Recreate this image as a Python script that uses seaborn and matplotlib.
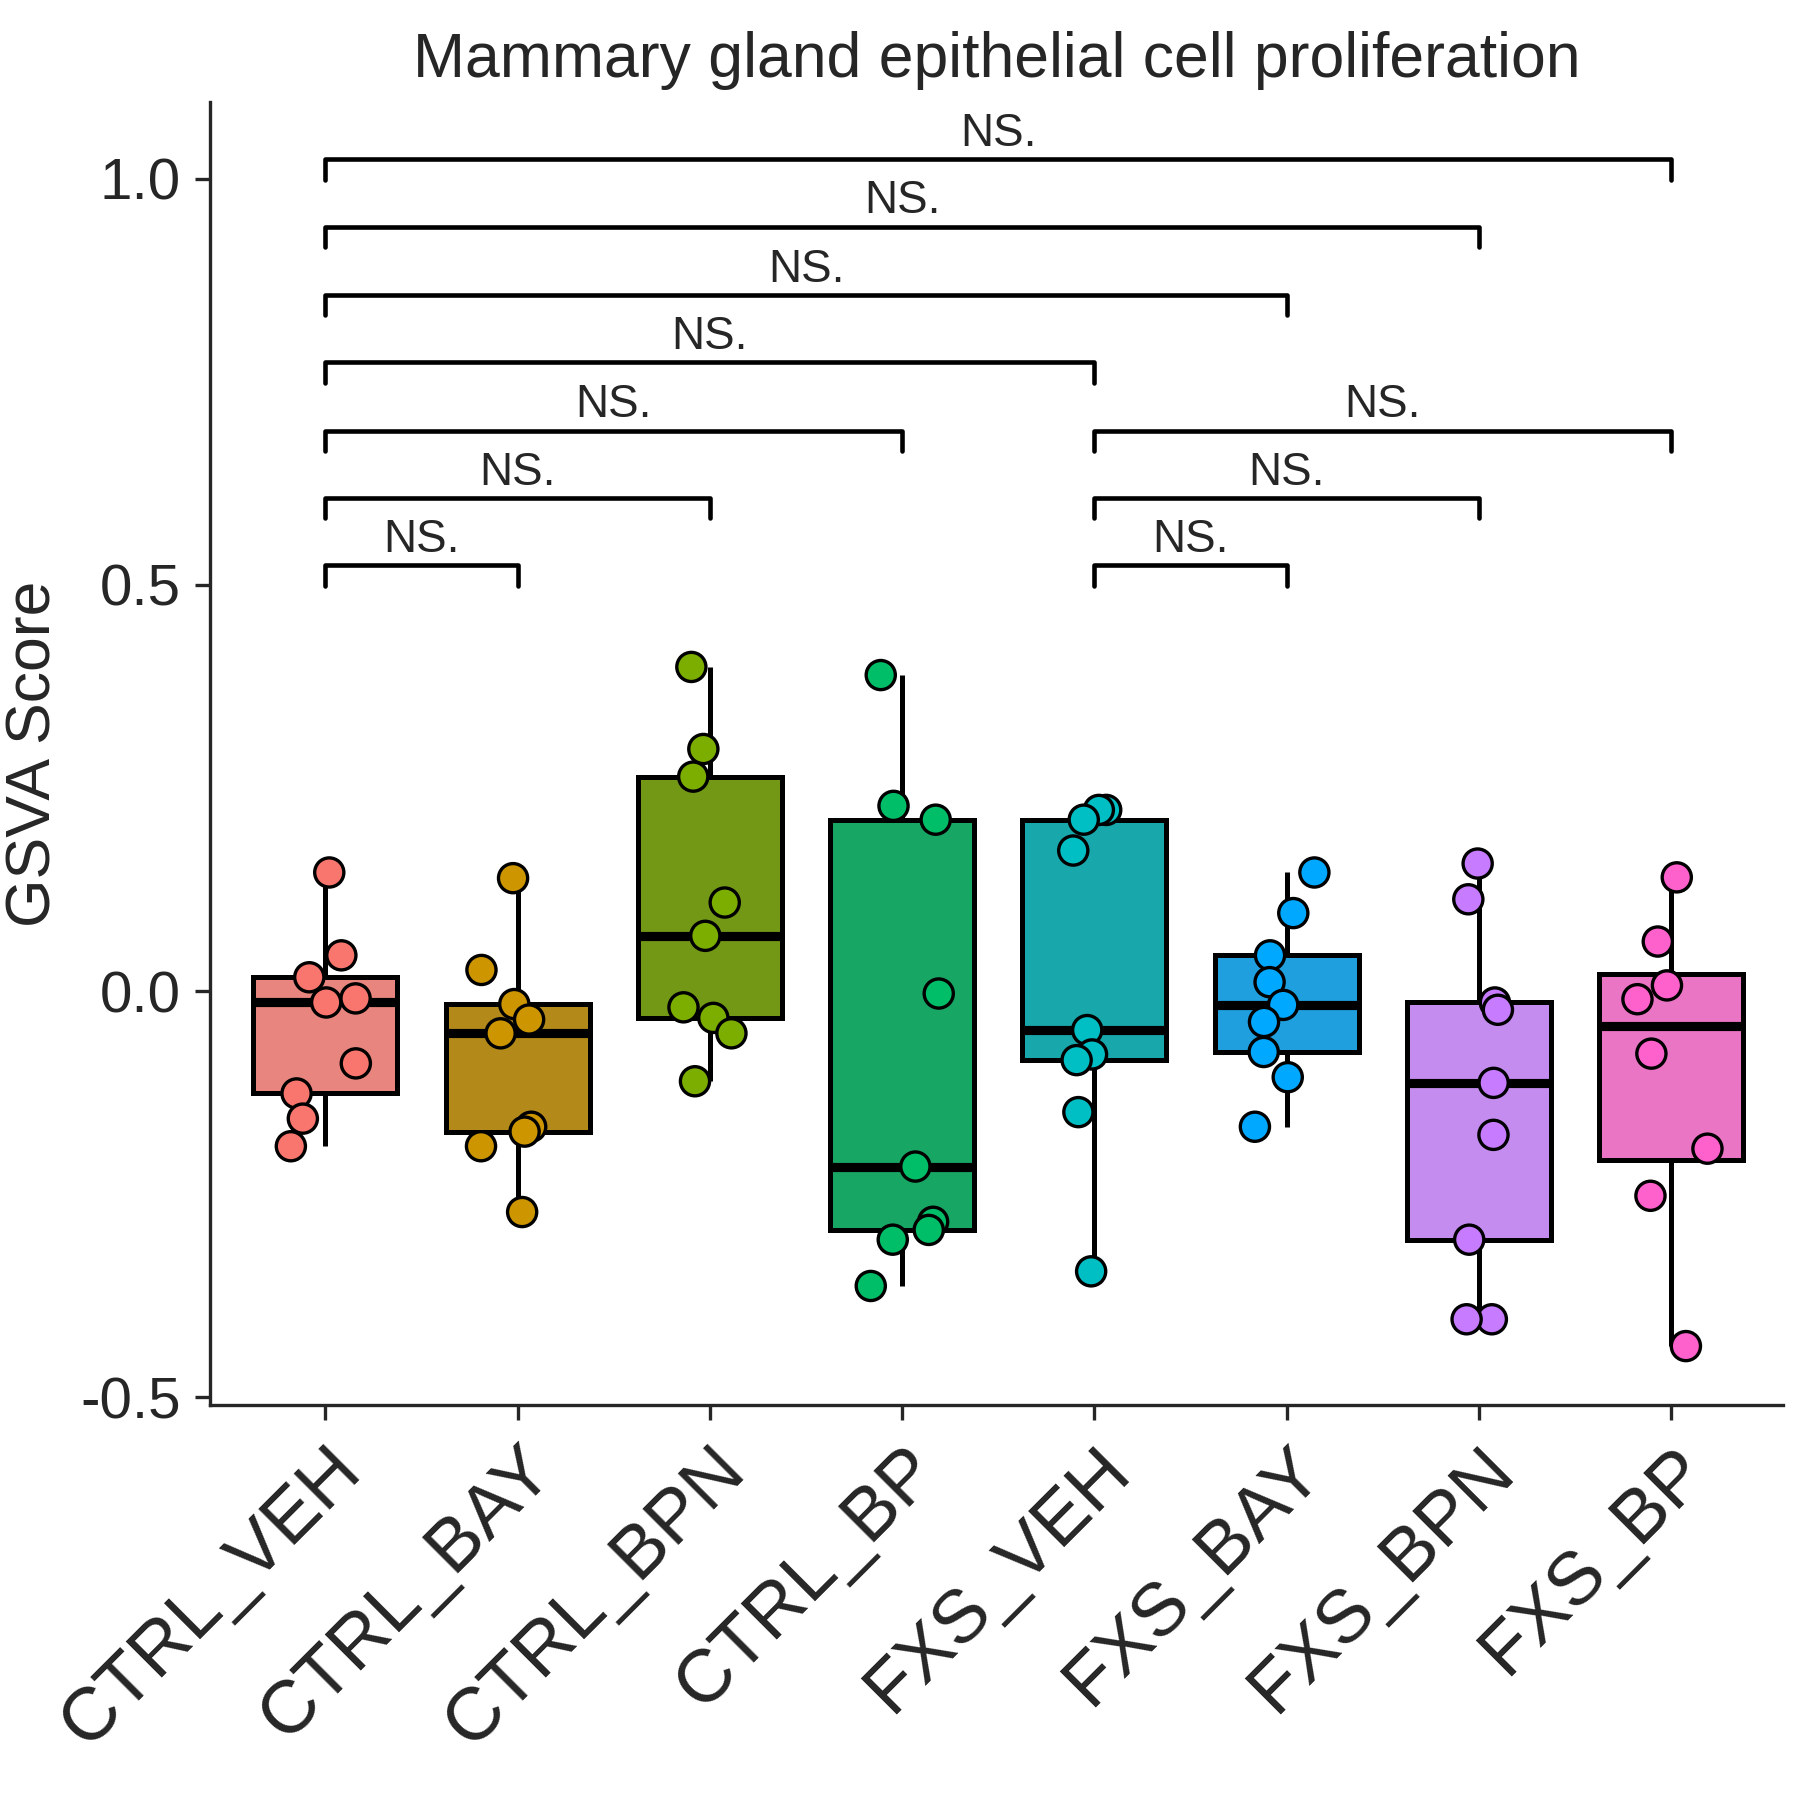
import matplotlib
matplotlib.use('Agg')
import matplotlib.pyplot as plt
import seaborn as sns
import pandas as pd
import numpy as np

sns.set_style("ticks")
plt.rcParams['font.family'] = ['Liberation Sans', 'DejaVu Sans']

groups = ['CTRL_VEH', 'CTRL_BAY', 'CTRL_BPN', 'CTRL_BP',
          'FXS_VEH', 'FXS_BAY', 'FXS_BPN', 'FXS_BP']
colors = ['#F8766D', '#CD9600', '#7CAE00', '#00BE67',
          '#00BFC4', '#00A9FF', '#C77CFF', '#FF61CC']

scores = {
    'CTRL_VEH': [0.146, 0.044, 0.017, -0.014, -0.009, -0.089, -0.126, -0.157, -0.191],
    'CTRL_BAY': [0.139, 0.026, -0.016, -0.035, -0.052, -0.167, -0.173, -0.191, -0.272],
    'CTRL_BPN': [0.399, 0.298, 0.264, 0.109, 0.068, -0.020, -0.033, -0.052, -0.111],
    'CTRL_BP': [0.389, 0.228, 0.211, -0.003, -0.216, -0.284, -0.294, -0.306, -0.363],
    'FXS_VEH': [0.223, 0.223, 0.211, 0.173, -0.048, -0.078, -0.085, -0.149, -0.345],
    'FXS_BAY': [0.146, 0.096, 0.044, 0.011, -0.017, -0.038, -0.075, -0.106, -0.167],
    'FXS_BPN': [0.157, 0.113, -0.014, -0.023, -0.113, -0.177, -0.306, -0.404, -0.404],
    'FXS_BP': [0.140, 0.061, 0.007, -0.010, -0.077, -0.194, -0.252, -0.437],
}

# comparisons: (group a, group b, bracket height)
comparisons = [
    ('CTRL_VEH', 'CTRL_BAY', 0.524), ('CTRL_VEH', 'CTRL_BPN', 0.607),
    ('CTRL_VEH', 'CTRL_BP', 0.690), ('CTRL_VEH', 'FXS_VEH', 0.774),
    ('CTRL_VEH', 'FXS_BAY', 0.857), ('CTRL_VEH', 'FXS_BPN', 0.941),
    ('CTRL_VEH', 'FXS_BP', 1.024),
    ('FXS_VEH', 'FXS_BAY', 0.524), ('FXS_VEH', 'FXS_BPN', 0.607),
    ('FXS_VEH', 'FXS_BP', 0.690),
]

rows = [(g, v) for g in groups for v in scores[g]]
df = pd.DataFrame(rows, columns=['group', 'score'])

fig = plt.figure(figsize=(6, 6), dpi=300)
ax = fig.add_axes([182/1560, 1 - 1218/1560, (1545-182)/1560, (1218-88)/1560])

sns.boxplot(data=df, x='group', y='score', hue='group', palette=colors, order=groups,
            showfliers=False, width=0.75, linewidth=1.2, legend=False, ax=ax,
            boxprops=dict(edgecolor='black'), whiskerprops=dict(color='black'),
            capprops=dict(visible=False), medianprops=dict(color='black', linewidth=2.2))
np.random.seed(3)
sns.stripplot(data=df, x='group', y='score', hue='group', palette=colors, order=groups,
              jitter=0.2, size=7, edgecolor='black', linewidth=0.8, legend=False, ax=ax)

for a, b, h in comparisons:
    xa, xb = groups.index(a), groups.index(b)
    ax.plot([xa, xa, xb, xb], [h - 0.025, h, h, h - 0.025], color='black', lw=1.1)
    ax.text((xa + xb) / 2, h + 0.004, 'NS.', ha='center', va='bottom', fontsize=11)

ax.set_xlim(-0.6, 7.58)
ax.set_ylim(-0.51, 1.095)
ax.set_yticks([-0.5, 0, 0.5, 1.0])
ax.set_yticklabels(['-0.5', '0.0', '0.5', '1.0'], fontsize=14)
ax.set_xticks(range(len(groups)))
ax.set_xticklabels(groups, rotation=45, ha='right', rotation_mode='anchor', fontsize=18)
ax.set_xlabel('')
ax.set_ylabel('GSVA Score', fontsize=15)
ax.set_title('Mammary gland epithelial cell proliferation', fontsize=15)
sns.despine(ax=ax)
fig.savefig('out.png', dpi=300)
